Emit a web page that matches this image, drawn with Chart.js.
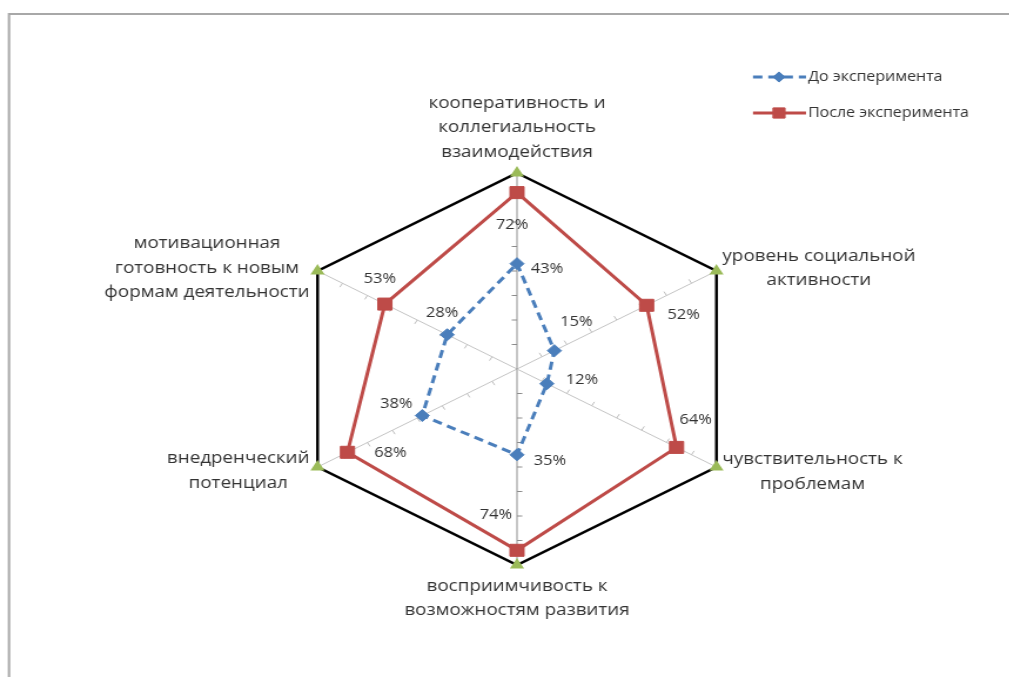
<!DOCTYPE html>
<html>
<head>
<meta charset="utf-8">
<script src="https://cdn.jsdelivr.net/npm/chart.js@4"></script>
<style>
html, body { margin: 0; padding: 0; background: #fff; overflow: hidden; }
#wrap { width: 859px; height: 677px; transform: scaleX(1.175); transform-origin: 0 0; }
</style>
</head>
<body>
<div id="wrap"><canvas id="radar"></canvas></div>
<script>
// подписи осей
var axisLabels = [
	['кооперативность и', 'коллегиальность', 'взаимодействия'],
	['уровень социальной', 'активности'],
	['чувствительность к', 'проблемам'],
	['восприимчивость к', 'возможностям развития'],
	['внедренческий', 'потенциал'],
	['мотивационная', 'готовность к новым', 'формам деятельности']
];
// значения
var before = [0.43, 0.15, 0.12, 0.35, 0.38, 0.28];
var after = [0.72, 0.52, 0.64, 0.74, 0.68, 0.53];
var outer = [0.8, 0.8, 0.8, 0.8, 0.8, 0.8];
var tickValues = [0.1, 0.2, 0.3, 0.4, 0.5, 0.6, 0.7];

var SX = 1.175; // горизонтальное растяжение картинки

// смещения подписей процентов (dx в пикселях картинки, dy)
var labelOffsets = [
	[[30, 5], [22, -29], [35, -4], [33, 6], [-26, -12], [-5, -22]],
	[[-5, 32], [37, 10], [19, -27], [-21, -35], [43, 1], [-5, -25]]
];

var labelFont = '16px "Open Sans"';
var textColor = '#333333';

// рамка вокруг диаграммы
var framePlugin = {
	id: 'frame',
	beforeDraw(chart) {
		var ctx = chart.ctx;
		ctx.save();
		ctx.strokeStyle = '#a8a8a8';
		ctx.lineWidth = 2;
		ctx.beginPath();
		ctx.moveTo(9 / SX, 700);
		ctx.lineTo(9 / SX, 14);
		ctx.lineTo(900, 14);
		ctx.stroke();
		ctx.restore();
	}
};

// засечки на осях
var tickMarksPlugin = {
	id: 'tickMarks',
	beforeDatasetsDraw(chart) {
		var scale = chart.scales.r;
		var ctx = chart.ctx;
		ctx.save();
		ctx.lineWidth = 1;
		for (var i = 0; i < axisLabels.length; i++) {
			var end = scale.getPointPosition(i, scale.drawingArea);
			var dx = end.x - scale.xCenter, dy = end.y - scale.yCenter;
			var len = Math.sqrt(dx * dx + dy * dy);
			var ux = dx / len, uy = dy / len;
			ctx.strokeStyle = (i === 0 || i === 3) ? '#8c8c8c' : '#bdbdbd';
			tickValues.forEach(function (v) {
				var p = scale.getPointPositionForValue(i, v);
				ctx.beginPath();
				ctx.moveTo(p.x, p.y);
				ctx.lineTo(p.x + uy * 4.5, p.y - ux * 4.5);
				ctx.stroke();
			});
		}
		ctx.restore();
	}
};

// подписи осей, процентов и легенда
var textPlugin = {
	id: 'texts',
	afterDatasetsDraw(chart) {
		var scale = chart.scales.r;
		var ctx = chart.ctx;
		ctx.save();
		ctx.fillStyle = textColor;
		ctx.textBaseline = 'middle';
		ctx.textAlign = 'center';

		// подписи осей
		ctx.font = labelFont;
		var lh = 24.5;
		axisLabels.forEach(function (lines, i) {
			var v = scale.getPointPosition(i, scale.drawingArea);
			var maxW = Math.max.apply(null, lines.map(function (t) { return ctx.measureText(t).width; }));
			var cx, y0;
			if (i === 0) {
				cx = v.x; y0 = v.y - 21 - lh * (lines.length - 1);
			} else if (i === 3) {
				cx = v.x; y0 = v.y + 21;
			} else if (i === 1 || i === 2) {
				cx = v.x + 6 / SX + maxW / 2;
				y0 = v.y + (i === 1 ? -2.5 : 5) - lh * (lines.length - 1) / 2;
			} else {
				cx = v.x - 8 / SX - maxW / 2;
				y0 = v.y + (i === 5 ? -3 : 4) - lh * (lines.length - 1) / 2;
			}
			lines.forEach(function (t, k) { ctx.fillText(t, cx, y0 + k * lh); });
		});

		// проценты
		ctx.font = '14px "Open Sans"';
		[0, 1].forEach(function (d) {
			var meta = chart.getDatasetMeta(d);
			meta.data.forEach(function (pt, i) {
				var off = labelOffsets[d][i];
				var val = chart.data.datasets[d].data[i];
				ctx.fillText(Math.round(val * 100) + '%', pt.x + off[0] / SX, pt.y + off[1]);
			});
		});

		// легенда
		var rows = [77, 113];
		ctx.font = '13.6px "Open Sans"';
		ctx.textAlign = 'left';
		[0, 1].forEach(function (d, k) {
			var ds = chart.data.datasets[d];
			var y = rows[k];
			ctx.save();
			ctx.strokeStyle = ds.borderColor;
			ctx.lineWidth = ds.borderWidth;
			ctx.setLineDash(ds.borderDash || []);
			ctx.beginPath();
			ctx.moveTo(753 / SX, y);
			ctx.lineTo(806 / SX, y);
			ctx.stroke();
			ctx.restore();
			ctx.save();
			ctx.fillStyle = ds.pointBackgroundColor;
			ctx.strokeStyle = ds.pointBackgroundColor;
			ctx.lineWidth = 1;
			Chart.helpers.drawPoint(ctx, { pointStyle: ds.pointStyle, radius: ds.pointRadius * 0.85, rotation: 0, borderWidth: 1 }, 779 / SX, y);
			ctx.restore();
			ctx.fillStyle = textColor;
			ctx.fillText(ds.label, 808 / SX, y);
		});
		ctx.restore();
	}
};

new Chart(document.getElementById('radar'), {
	type: 'radar',
	data: {
		labels: axisLabels,
		datasets: [{
			label: 'До эксперимента',
			data: before,
			borderColor: '#4a7ebb',
			borderWidth: 3,
			borderDash: [8, 5],
			pointStyle: 'rectRot',
			pointRadius: 6,
			pointBackgroundColor: '#4a7ebb',
			pointBorderColor: '#4a7ebb',
			pointBorderWidth: 1,
			fill: false
		}, {
			label: 'После эксперимента',
			data: after,
			borderColor: '#be4b48',
			borderWidth: 3,
			pointStyle: 'rect',
			pointRadius: 8.5,
			pointBackgroundColor: '#be4b48',
			pointBorderColor: '#be4b48',
			pointBorderWidth: 1,
			fill: false
		}, {
			label: 'max',
			data: outer,
			borderColor: '#000000',
			borderWidth: 2.5,
			pointStyle: 'triangle',
			pointRadius: 4.5,
			pointBackgroundColor: '#9bbb59',
			pointBorderColor: '#9bbb59',
			fill: false
		}]
	},
	options: {
		responsive: true,
		maintainAspectRatio: false,
		animation: false,
		elements: { line: { tension: 0 } },
		plugins: {
			legend: { display: false },
			tooltip: { enabled: false }
		},
		layout: {
			padding: { top: 173, bottom: 112, left: 200, right: 179 }
		},
		scales: {
			r: {
				min: 0,
				max: 0.8,
				ticks: { display: false, stepSize: 0.1 },
				grid: { display: false },
				pointLabels: { display: false },
				angleLines: {
					display: true,
					lineWidth: 1,
					color: function (ctx) { return (ctx.index === 0 || ctx.index === 3) ? '#8c8c8c' : '#c4c4c4'; }
				}
			}
		}
	},
	plugins: [framePlugin, tickMarksPlugin, textPlugin]
});
</script>
</body>
</html>
